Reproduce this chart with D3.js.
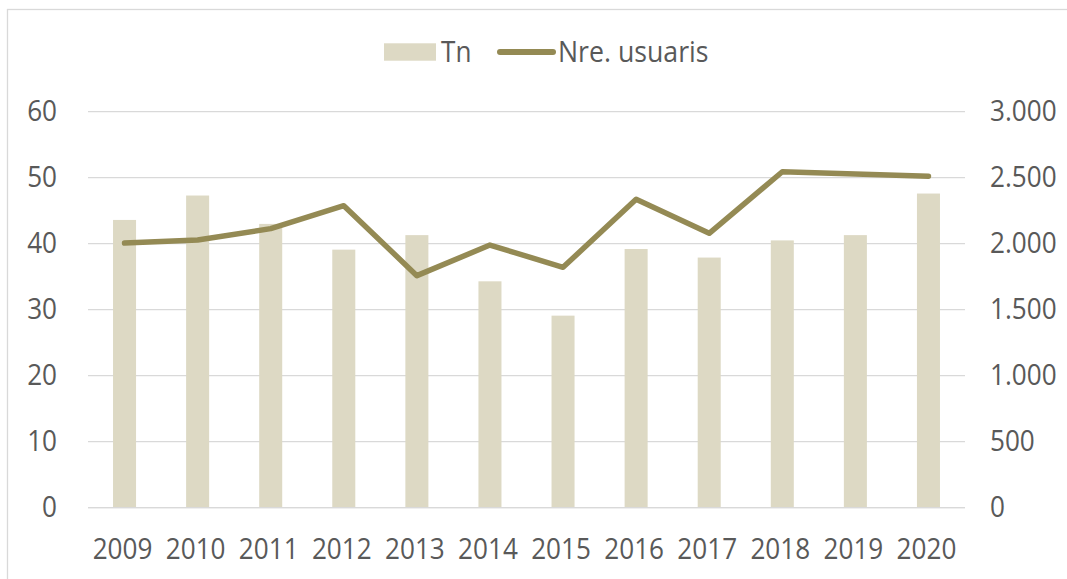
<!DOCTYPE html>
<html><head><meta charset="utf-8">
<script src="https://cdn.jsdelivr.net/npm/d3@7"></script>
<style>
html,body{margin:0;padding:0;background:#fff;}
svg{display:block;}
text{font-family:"Open Sans","Noto Sans",sans-serif;fill:#595959;}
</style></head>
<body>
<svg id="chart" width="1067" height="579"></svg>
<script>
const years = ["2009","2010","2011","2012","2013","2014","2015","2016","2017","2018","2019","2020"];
const tn = [43.6, 47.3, 43.0, 39.1, 41.3, 34.3, 29.1, 39.2, 37.9, 40.5, 41.3, 47.6];
const usuaris = [2005, 2028, 2114, 2288, 1758, 1990, 1821, 2336, 2079, 2545, 2528, 2511];
const leftTicks = [0, 10, 20, 30, 40, 50, 60];
const rightTicks = [0, 500, 1000, 1500, 2000, 2500, 3000];
const seriesNames = ["Tn", "Nre. usuaris"];

const barColor = "#DDD9C4", lineColor = "#948A54", gridColor = "#D9D9D9";
const svg = d3.select("#chart");
const plot = {left: 88, right: 965, top: 111.7, bottom: 507.7};
const fs = 29, squeeze = 0.9;

// outer frame (right/bottom lie off-canvas)
svg.append("rect").attr("x", 7.5).attr("y", 9.5).attr("width", 1100).attr("height", 600)
  .attr("fill", "none").attr("stroke", gridColor).attr("stroke-width", 1.3);

const x = d3.scaleBand().domain(years).range([plot.left, plot.right]).paddingInner(0.685).paddingOuter(0.3425);
const yL = d3.scaleLinear().domain([0, 60]).range([plot.bottom, plot.top]);
const yR = d3.scaleLinear().domain([0, 3000]).range([plot.bottom, plot.top]);

// gridlines
svg.append("g").selectAll("line").data(leftTicks).join("line")
  .attr("x1", plot.left).attr("x2", plot.right)
  .attr("y1", d => yL(d)).attr("y2", d => yL(d))
  .attr("stroke", gridColor).attr("stroke-width", 1.3);

// bars
svg.append("g").selectAll("rect").data(tn).join("rect")
  .attr("x", (d, i) => x(years[i])).attr("width", x.bandwidth())
  .attr("y", d => yL(d)).attr("height", d => yL(0) - yL(d))
  .attr("fill", barColor);

// baseline on top of bars
svg.append("line").attr("x1", plot.left).attr("x2", plot.right)
  .attr("y1", yL(0)).attr("y2", yL(0)).attr("stroke", gridColor).attr("stroke-width", 1.3);

// line
const line = d3.line().x((d, i) => x(years[i]) + x.bandwidth() / 2).y(d => yR(d));
svg.append("path").datum(usuaris).attr("d", line)
  .attr("fill", "none").attr("stroke", lineColor).attr("stroke-width", 5.5)
  .attr("stroke-linejoin", "round").attr("stroke-linecap", "round");

// axes
const fmtR = d => d3.format(",")(d).replace(/,/g, ".");
const axL = svg.append("g").attr("transform", `translate(${plot.left},0)`)
  .call(d3.axisLeft(yL).tickValues(leftTicks).tickSize(0).tickPadding(31));
const axR = svg.append("g").attr("transform", `translate(${plot.right},0)`)
  .call(d3.axisRight(yR).tickValues(rightTicks).tickFormat(fmtR).tickSize(0).tickPadding(25));
const axB = svg.append("g").attr("transform", `translate(0,${plot.bottom})`)
  .call(d3.axisBottom(x).tickSize(0).tickPadding(31));
[axL, axR, axB].forEach(a => {
  a.select(".domain").remove();
  a.selectAll("text").attr("font-size", fs).style("font-family", '"Open Sans","Noto Sans",sans-serif').attr("fill", "#595959");
});
axB.selectAll(".tick").attr("transform", function() {
  const t = d3.select(this).attr("transform");
  const m = /translate\(([-\d.]+)/.exec(t);
  return `translate(${+m[1] - 2},0)`;
});

// legend
const lg = svg.append("g");
lg.append("rect").attr("x", 384).attr("y", 43.3).attr("width", 52).attr("height", 17.4).attr("fill", barColor);
lg.append("text").attr("x", 441).attr("y", 62).attr("font-size", fs).text(seriesNames[0]);
lg.append("line").attr("x1", 500).attr("x2", 553).attr("y1", 52).attr("y2", 52)
  .attr("stroke", lineColor).attr("stroke-width", 6).attr("stroke-linecap", "round");
lg.append("text").attr("x", 558).attr("y", 62).attr("font-size", fs).text(seriesNames[1]);

// condense all text horizontally
svg.selectAll("text").each(function() {
  const w = this.getComputedTextLength();
  const s = this.textContent === seriesNames[1] ? 0.92 : squeeze;
  d3.select(this).attr("textLength", w * s).attr("lengthAdjust", "spacingAndGlyphs");
});
</script>
</body></html>
